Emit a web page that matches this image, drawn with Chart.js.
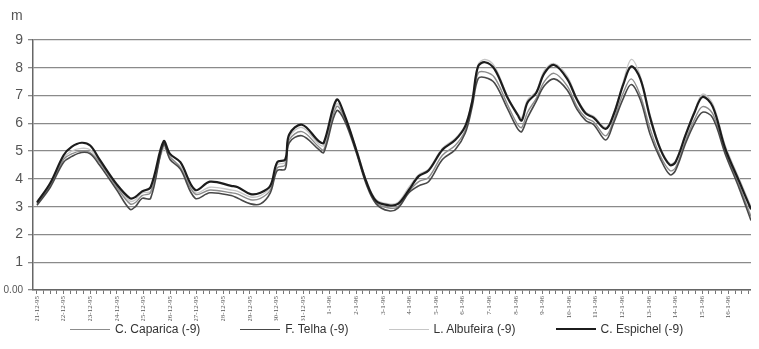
<!DOCTYPE html>
<html>
<head>
<meta charset="utf-8">
<script src="https://cdn.jsdelivr.net/npm/chart.js@4.4.0/dist/chart.umd.min.js"></script>
<style>
  body { margin: 0; background: #fff; }
  #wrap { position: relative; width: 759px; height: 349px; }
  #unit { position: absolute; left: 11px; top: 7px; font: 14px "Liberation Sans", Arial, sans-serif; color: #555; }
  #legend { position: absolute; left: 70px; top: 322px; display: flex; gap: 40px; font: 12px "Liberation Sans", Arial, sans-serif; color: #333; }
  .item { display: flex; align-items: center; }
  .swatch { width: 40px; margin-right: 5px; }
</style>
</head>
<body>
<div id="wrap">
  <canvas id="tides" width="759" height="349"></canvas>
  <span id="unit">m</span>
  <div id="legend"></div>
</div>
<script>
const ctx = document.getElementById("tides").getContext("2d");

// one label per day, 21-12-95 .. 16-1-96
const dateLabels = ["21-12-95", "22-12-95", "23-12-95", "24-12-95", "25-12-95", "26-12-95", "27-12-95",
    "28-12-95", "29-12-95", "30-12-95", "31-12-95", "1-1-96", "2-1-96", "3-1-96", "4-1-96", "5-1-96",
    "6-1-96", "7-1-96", "8-1-96", "9-1-96", "10-1-96", "11-1-96", "12-1-96", "13-1-96", "14-1-96",
    "15-1-96", "16-1-96"];

// time of each reading, in days after 21-12-95 00h
const days = [0, 0.5, 1.0, 1.3, 1.67, 2.0, 2.35, 3.0, 3.5, 3.7, 3.95, 4.27, 4.76, 5.0, 5.39, 5.95, 6.5,
    7.3, 7.55, 8.03, 8.4, 8.77, 9.03, 9.33, 9.48, 9.96, 10.6, 10.78, 11.26, 11.56, 12.0, 12.38, 12.75,
    13.23, 13.57, 13.98, 14.35, 14.72, 15.24, 15.72, 16.1, 16.36, 16.58, 16.84, 17.2, 17.7, 18.07, 18.22,
    18.44, 18.77, 19.07, 19.44, 19.93, 20.3, 20.63, 20.93, 21.38, 21.67, 22.04, 22.34, 22.68, 23.05,
    23.42, 23.79, 24.0, 24.39, 24.72, 25.02, 25.4, 25.87, 26.4, 26.84];

const caparica = [3.1, 3.75, 4.7, 4.9, 5.0, 4.95, 4.6, 3.7, 3.1, 3.15, 3.4, 3.5, 5.2, 4.8, 4.4, 3.45, 3.6,
    3.5, 3.45, 3.25, 3.3, 3.6, 4.4, 4.5, 5.4, 5.7, 5.15, 5.05, 6.6, 6.2, 5.0, 3.85, 3.15, 2.95, 3.0, 3.55,
    3.9, 4.05, 4.85, 5.2, 5.75, 6.7, 7.8, 7.85, 7.65, 6.65, 5.95, 5.85, 6.4, 6.9, 7.5, 7.8, 7.35, 6.6, 6.2,
    6.05, 5.55, 6.1, 7.1, 7.6, 7.0, 5.8, 4.85, 4.3, 4.4, 5.4, 6.15, 6.6, 6.35, 5.0, 3.75, 2.65];

const telha = [3.05, 3.7, 4.6, 4.8, 4.95, 4.9, 4.5, 3.6, 2.9, 3.0, 3.3, 3.3, 5.25, 4.7, 4.35, 3.3, 3.5,
    3.4, 3.3, 3.1, 3.1, 3.5, 4.3, 4.35, 5.3, 5.55, 5.05, 4.95, 6.45, 6.1, 4.95, 3.8, 3.1, 2.85, 2.95, 3.5,
    3.75, 3.9, 4.7, 5.05, 5.65, 6.6, 7.6, 7.65, 7.45, 6.5, 5.8, 5.7, 6.2, 6.8, 7.35, 7.6, 7.2, 6.5, 6.1,
    5.95, 5.4, 6.0, 6.9, 7.4, 6.85, 5.6, 4.75, 4.15, 4.3, 5.3, 6.0, 6.4, 6.2, 4.9, 3.65, 2.5];

const albufeira = [3.2, 3.8, 4.75, 5.0, 5.1, 5.05, 4.65, 3.75, 3.2, 3.25, 3.5, 3.55, 5.1, 4.75, 4.45, 3.5,
    3.7, 3.6, 3.55, 3.35, 3.4, 3.7, 4.5, 4.6, 5.5, 5.85, 5.25, 5.2, 6.7, 6.25, 5.1, 3.95, 3.25, 3.1, 3.15,
    3.7, 4.15, 4.35, 5.1, 5.45, 5.95, 6.85, 8.1, 8.3, 8.05, 6.95, 6.35, 6.2, 6.85, 7.15, 7.9, 8.15, 7.7,
    6.9, 6.4, 6.25, 5.85, 6.35, 7.5, 8.3, 7.7, 6.3, 5.15, 4.55, 4.65, 5.65, 6.45, 7.05, 6.7, 5.2, 4.0, 3.0];

const espichel = [3.15, 3.85, 4.85, 5.15, 5.3, 5.2, 4.7, 3.8, 3.3, 3.35, 3.55, 3.7, 5.35, 4.9, 4.6, 3.6,
    3.9, 3.75, 3.7, 3.45, 3.5, 3.75, 4.6, 4.7, 5.6, 5.95, 5.35, 5.3, 6.85, 6.3, 5.05, 3.9, 3.2, 3.05, 3.1,
    3.6, 4.1, 4.3, 5.05, 5.4, 5.9, 6.8, 8.05, 8.2, 7.95, 6.9, 6.3, 6.1, 6.75, 7.1, 7.8, 8.1, 7.6, 6.85,
    6.35, 6.2, 5.8, 6.3, 7.4, 8.05, 7.6, 6.2, 5.1, 4.5, 4.6, 5.6, 6.4, 6.95, 6.6, 5.1, 3.9, 2.9];

const seriesNames = ["C. Caparica (-9)", "F. Telha (-9)", "L. Albufeira (-9)", "C. Espichel (-9)"];
const yTicks = [0, 1, 2, 3, 4, 5, 6, 7, 8, 9];

function points(values) {
    return values.map((v, i) => ({x: days[i], y: v}));
}

const looks = [
    {color: '#8c8c8c', width: 1.4, order: 2},
    {color: '#484848', width: 1.6, order: 1},
    {color: '#c6c6c6', width: 1.4, order: 3},
    {color: '#1c1c1c', width: 2.2, order: 0},
];

const datasets = [caparica, telha, albufeira, espichel].map((values, i) => ({
    label: seriesNames[i],
    data: points(values),
    borderColor: looks[i].color,
    backgroundColor: looks[i].color,
    borderWidth: looks[i].width,
    order: looks[i].order,
    pointRadius: 0,
    tension: 0.35,
    fill: false
}));

new Chart(ctx, {
    type: 'line',
    data: {datasets: datasets},
    options: {
        responsive: false,
        animation: false,
        layout: {padding: {top: 40, right: 0, bottom: 28, left: 0}},
        plugins: {legend: {display: false}, tooltip: {enabled: false}},
        scales: {
            x: {
                type: 'linear',
                min: -0.15,
                max: 26.84,
                afterBuildTicks: (scale) => {
                    const t = [];
                    for (let q = 0; q <= 107; q++) t.push({value: q / 4});
                    scale.ticks = t;
                },
                afterFit: (scale) => { scale.height = 31; },
                grid: {drawOnChartArea: false, drawTicks: true, tickLength: 4, color: '#777', lineWidth: 1},
                border: {color: '#666', width: 1.5},
                ticks: {
                    autoSkip: false,
                    maxRotation: 90,
                    minRotation: 90,
                    padding: 2,
                    color: '#555',
                    font: {size: 7, family: '"Liberation Serif", serif'},
                    callback: (value) => Number.isInteger(value) ? dateLabels[value] : ''
                }
            },
            y: {
                min: 0,
                max: 9,
                afterBuildTicks: (scale) => { scale.ticks = yTicks.map(v => ({value: v})); },
                afterFit: (scale) => { scale.width = 33; },
                grid: {color: '#8a8a8a', lineWidth: 1.3, tickLength: 5},
                border: {color: '#666', width: 1.5},
                ticks: {
                    color: '#555',
                    padding: 5,
                    font: (c) => c.tick && c.tick.value === 0
                        ? {size: 10, family: '"Liberation Sans", Arial, sans-serif'}
                        : {size: 14, family: '"Liberation Sans", Arial, sans-serif'},
                    callback: (value) => value === 0 ? '0.00' : String(value)
                }
            }
        }
    }
});

// legend under the date labels
const legend = document.getElementById('legend');
datasets.forEach((ds) => {
    const item = document.createElement('div');
    item.className = 'item';
    const line = document.createElement('span');
    line.className = 'swatch';
    line.style.borderTop = ds.borderWidth + 'px solid ' + ds.borderColor;
    const text = document.createElement('span');
    text.textContent = ds.label;
    item.appendChild(line);
    item.appendChild(text);
    legend.appendChild(item);
});
</script>
</body>
</html>
